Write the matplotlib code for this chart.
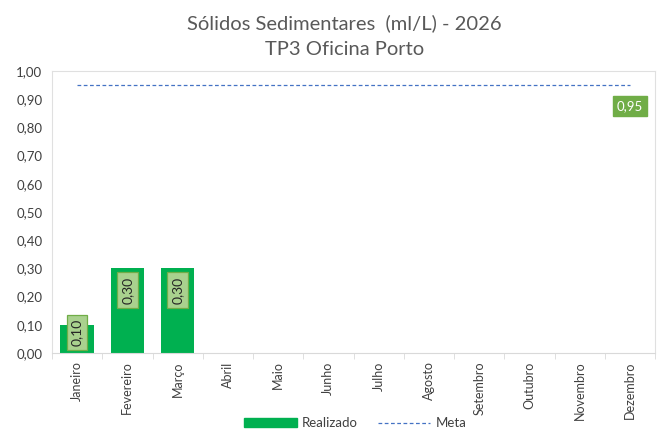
import numpy as np
import matplotlib.pyplot as plt
from matplotlib.patches import Patch
from matplotlib.lines import Line2D

# ----------------------------
# Data
# ----------------------------
meses = ["Janeiro", "Fevereiro", "Março", "Abril", "Maio", "Junho",
         "Julho", "Agosto", "Setembro", "Outubro", "Novembro", "Dezembro"]
realizado = [0.10, 0.30, 0.30, None, None, None, None, None, None, None, None, None]
meta = [0.95] * 12

GREEN = "#00B050"
LABEL_FACE = "#A9D18E"
LABEL_EDGE = "#70AD47"
META_BLUE = "#4472C4"
TXT = "#595959"

plt.rcParams["font.family"] = ["Lato", "DejaVu Sans"]

fig = plt.figure(figsize=(6.58, 4.30), dpi=100)
ax = fig.add_axes([52 / 658, 1 - 353 / 430, 603 / 658, 282 / 430])

x = np.arange(len(meses))
vals = [v if v is not None else 0 for v in realizado]
ax.bar(x, vals, width=0.67, color=GREEN, zorder=2)
ax.plot(x, meta, linestyle=(0, (3, 2)), color=META_BLUE, linewidth=0.9, zorder=3)

def fmt(v):
    return f"{v:.2f}".replace(".", ",")

# bar labels (rotated, inside end)
box = dict(boxstyle="square,pad=0.3", fc=LABEL_FACE, ec=LABEL_EDGE, lw=0.9)
for i, v in enumerate(realizado):
    if v is None:
        continue
    if v >= 0.2:
        ax.annotate(fmt(v), (i, v), xytext=(0, -8), textcoords="offset pixels",
                    rotation=90, ha="center", va="top", fontsize=10, color="#262626",
                    bbox=box, zorder=4)
    else:
        ax.annotate(fmt(v), (i, 0), xytext=(0, 7), textcoords="offset pixels",
                    rotation=90, ha="center", va="bottom", fontsize=10, color="#262626",
                    bbox=box, zorder=4)

# meta label at last point
ax.annotate(fmt(meta[-1]), (x[-1], meta[-1]), xytext=(0, -21), textcoords="offset pixels",
            ha="center", va="center", fontsize=9.5, color="white",
            bbox=dict(boxstyle="square,pad=0.3", fc=LABEL_EDGE, ec=LABEL_EDGE), zorder=4)

ax.set_xlim(-0.5, len(meses) - 0.5)
ax.set_ylim(0, 1.0)
ax.set_yticks(np.arange(0, 1.01, 0.1))
ax.set_yticklabels([fmt(t) for t in np.arange(0, 1.01, 0.1)], fontsize=9.5, color="#404040")
ax.set_xticks(x)
ax.set_xticklabels(meses, rotation=90, fontsize=9, color="#404040")
ax.set_xticks(np.arange(-0.5, len(meses), 1), minor=True)
ax.tick_params(axis="x", which="major", length=0, pad=6)
ax.tick_params(axis="x", which="minor", length=4, color="#D9D9D9")
ax.tick_params(axis="y", length=0, pad=7)

for s in ["left", "top", "right"]:
    ax.spines[s].set_color("#E0E0E0")
ax.spines["bottom"].set_color("#D9D9D9")

fig.text(0.524, 0.945, "Sólidos Sedimentares  (ml/L) - 2026", ha="center", va="center",
         fontsize=14.5, color=TXT)
fig.text(0.524, 0.884, "TP3 Oficina Porto", ha="center", va="center",
         fontsize=14.5, color=TXT)

handles = [Patch(color=GREEN), Line2D([0], [0], color=META_BLUE, linestyle=(0, (3, 2)), lw=0.9)]
fig.legend(handles, ["Realizado", "Meta"], loc="center", bbox_to_anchor=(0.54, 0.016),
           ncol=2, frameon=False, fontsize=9.5, handlelength=4.0, columnspacing=1.5,
           handletextpad=0.4, labelcolor="#404040")

fig.savefig("out.png", dpi=100)
